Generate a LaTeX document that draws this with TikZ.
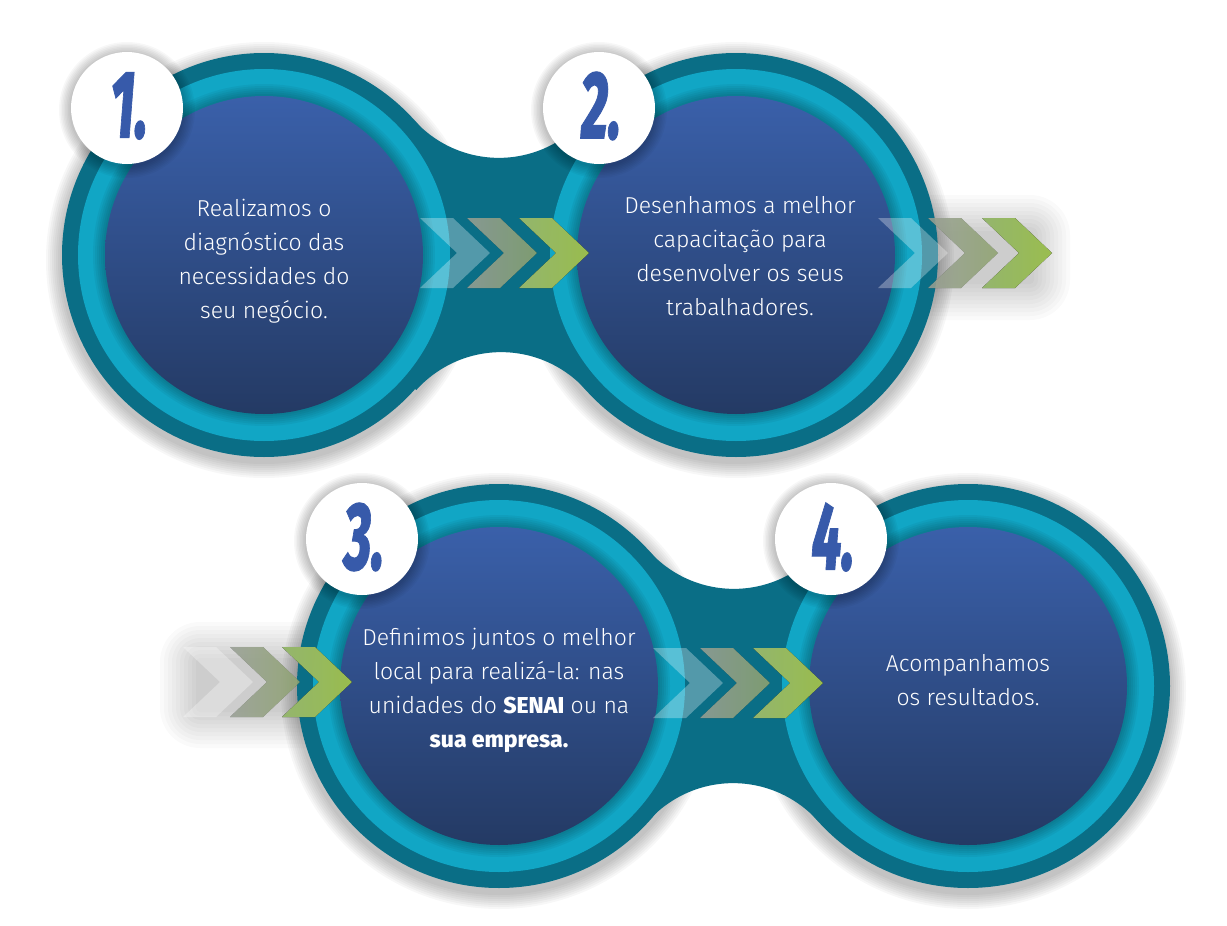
\documentclass[tikz,border=0pt]{standalone}
\usepackage{fontspec}
\setmainfont{Fira Sans}[UprightFont=* Light, BoldFont=* ExtraBold]
\newfontfamily\numfont{Fira Sans}[UprightFont=* ExtraBold Italic, FakeBold=1.2]
\usetikzlibrary{positioning,calc}
\definecolor{ringdark}{RGB}{10,110,134}
\definecolor{ringlight}{RGB}{17,166,197}
\definecolor{disctop}{RGB}{58,96,170}
\definecolor{discbot}{RGB}{36,58,100}
\definecolor{arrowgreen}{RGB}{166,204,84}
\definecolor{numblue}{RGB}{55,90,170}
\tikzset{
  halo/.style={black, opacity=0.03},
  softhalo/.style={black, opacity=0.018},
  disc/.style={top color=disctop, bottom color=discbot},
  badge/.style={circle, fill=white, minimum size=112pt, inner sep=0pt},
  numtxt/.style={text=numblue, font=\numfont\fontsize{96}{96}\selectfont, inner sep=0pt},
  steptxt/.style={text=white, align=center, inner sep=0pt, font=\fontsize{23}{34}\selectfont},
  chevA/.style={fill=white, fill opacity=0.3},
  chevB/.style={left color={rgb,255:red,205;green,214;blue,200}, right color={rgb,255:red,192;green,220;blue,150}, fill opacity=0.65},
  chevC/.style={left color={rgb,255:red,160;green,196;blue,118}, right color=arrowgreen, fill opacity=0.92},
}
\newcommand{\halocircle}[2]{%
  \foreach \e in {1,...,8}{\fill[halo] ($(#1)+(0,5)$) circle[radius=#2+2*\e];}
}
\newcommand{\neck}[2]{%
  \fill[ringdark] ($(#1)+(150,-135)$) arc[start angle=138.1, end angle=41.9, radius=114]
    -- (#2) -- ($(#2)+(-150,135)$) arc[start angle=-41.9, end angle=-138.1, radius=114]
    -- (#1) -- cycle;
}
\newcommand{\stepdisc}[1]{%
  \fill[ringdark] (#1) circle[radius=202];
  \fill[ringlight] (#1) circle[radius=186];
  \foreach \e in {1,...,6}{\fill[black, opacity=0.045] (#1) circle[radius=159+2*\e];}
  \shade[disc] (#1) circle[radius=159];
}
\newcommand{\chev}[3]{%
  \fill[#1] (#2,#3-35) -- ++(33,0) -- ++(37,35) -- ++(-37,35) -- ++(-33,0) -- ++(37,-35) -- cycle;
}
\newcommand{\chevshadow}[4]{%
  \foreach \e in {1,...,10}{\fill[softhalo, rounded corners=4*\e] (#1-4*\e,#2-4*\e) rectangle (#3+4*\e,#4+4*\e);}
}

\begin{document}
\begin{tikzpicture}[x=1pt, y=-1pt]
  \fill[white] (0,0) rectangle (1227,926);
  \useasboundingbox (0,0) rectangle (1227,926);
  \coordinate (c1) at (264,255);
  \coordinate (c2) at (736,255);
  \coordinate (c3) at (499,686);
  \coordinate (c4) at (968,686);
  % shadows
  \foreach \c in {c1,c2,c3,c4}{\halocircle{\c}{202}}
  \chevshadow{935}{235}{1030}{280}
  \chevshadow{200}{662}{320}{708}
  % rings and discs
  \neck{c1}{c2}
  \neck{c3}{c4}
  \foreach \c in {c1,c2,c3,c4}{\stepdisc{\c}}
  % chevrons
  \chev{chevA}{420}{253} \chev{chevB}{467}{253} \chev{chevC}{519}{253}
  \chev{chevA}{878}{253} \chev{chevB}{928}{253} \chev{chevC}{982}{253}
  \chev{chevA}{183}{682} \chev{chevB}{230}{682} \chev{chevC}{282}{682}
  \chev{chevA}{653}{683} \chev{chevB}{700}{683} \chev{chevC}{753}{683}
  % number badges
  \foreach \c/\n in {c1/1,c2/2,c3/3,c4/4}{
    \foreach \e in {1,...,8}{\fill[halo] ($(\c)+(-137,-145)$) circle[radius=56+1.5*\e];}
    \node[badge] (b\n) at ($(\c)+(-137,-147)$) {};
    \node[numtxt] (n\n) at ($(b\n)+(2,-2)$) {\scalebox{0.55}[1]{\n.}};
  }
  % step texts
  \node[steptxt] (t1) at (264,261) {Realizamos o\\diagnóstico das\\necessidades do\\seu negócio.};
  \node[steptxt] (t2) at (740,256) {Desenhamos a melhor\\capacitação para\\desenvolver os seus\\trabalhadores.};
  \node[steptxt] (t3) at (499,690) {Definimos juntos o melhor\\local para realizá-la: nas\\unidades do \textbf{SENAI} ou na\\\textbf{sua empresa.}};
  \node[steptxt] (t4) at (968,680) {Acompanhamos\\os resultados.};
\end{tikzpicture}
\end{document}
